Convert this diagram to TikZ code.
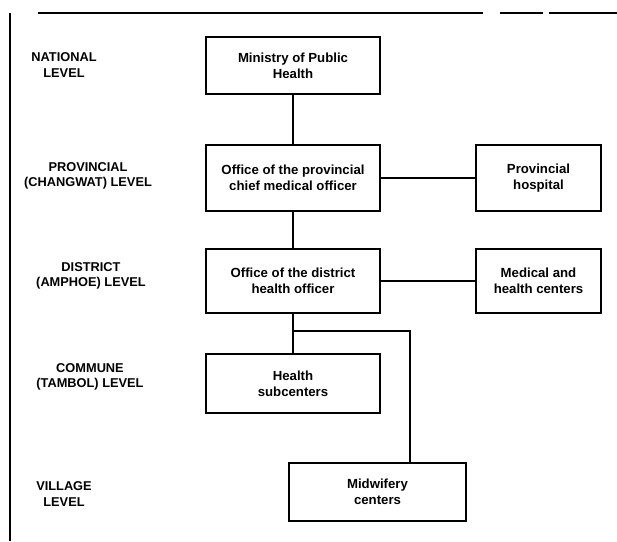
\documentclass[tikz,border=0pt]{standalone}
\usepackage{fontspec}
\setmainfont{Liberation Sans}
\usepackage{tikz}
\tikzstyle{BoxOrg}=[draw,line width=1.3pt,align=center,inner sep=2pt,
font=\fontsize{13.2}{16}\selectfont\bfseries]
\tikzstyle{LevelText}=[align=center,inner sep=0pt,font=\fontsize{12.8}{15.5}\selectfont\bfseries]
\tikzstyle{EdgeOrg}=[line width=1.3pt]
\tikzstyle{Frame}=[line width=1.8pt]

\begin{document}
\begin{tikzpicture}[x=1pt,y=-1pt]
        \useasboundingbox (0,0) rectangle (617,541);
        % page frame of the scan
        \draw[Frame](10,13)--(10,541);
        \draw[Frame](38,13)--(483,13);
        \draw[Frame](500,13)--(543,13);
        \draw[Frame](549,13)--(617,13);
        % levels
        \node[LevelText](natl)at(64,65){NATIONAL\\LEVEL};
        \node[LevelText](provl)at(88,176){PROVINCIAL\\(CHANGWAT) LEVEL};
        \node[LevelText](distl)at(91,276){DISTRICT\\(AMPHOE) LEVEL};
        \node[LevelText](comml)at(90,377){COMMUNE\\(TAMBOL) LEVEL};
        \node[LevelText](villl)at(64,494){VILLAGE\\LEVEL};
        % offices
        \node[BoxOrg,minimum width=174pt,minimum height=57pt](min)at(293,65.5){Ministry of Public\\Health};
        \node[BoxOrg,minimum width=174pt,minimum height=66pt](prov)at(293,178){Office of the provincial\\chief medical officer};
        \node[BoxOrg,minimum width=125pt,minimum height=66pt](hosp)at(538.5,178){Provincial\\hospital};
        \node[BoxOrg,minimum width=174pt,minimum height=64pt](dist)at(293,281){Office of the district\\health officer};
        \node[BoxOrg,minimum width=125pt,minimum height=64pt](med)at(538.5,281){Medical and\\health centers};
        \node[BoxOrg,minimum width=174pt,minimum height=59pt](comm)at(293,383.5){Health\\subcenters};
        \node[BoxOrg,minimum width=177pt,minimum height=58pt](midw)at(377.5,492){Midwifery\\centers};
        \coordinate(fork)at(293,331);
        \coordinate(turn)at(410,331);
        \draw[EdgeOrg](min)--(prov);
        \draw[EdgeOrg](prov)--(hosp);
        \draw[EdgeOrg](prov)--(dist);
        \draw[EdgeOrg](dist)--(med);
        \draw[EdgeOrg](dist)--(comm);
        \draw[EdgeOrg](fork)--(turn)--(turn|-midw.north);
    \end{tikzpicture}
\end{document}
